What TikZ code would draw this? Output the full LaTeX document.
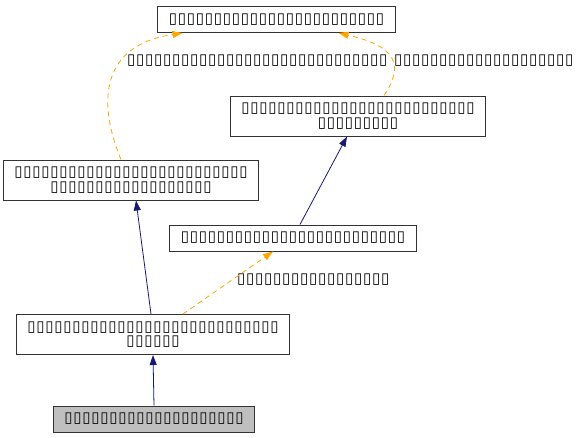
\documentclass[tikz,border=0pt]{standalone}
\usepackage{fontspec}
\usepackage{tikz}
\usetikzlibrary{arrows.meta}
\newfontfamily\tofufont[LetterSpace=5]{DejaVu Sans}
\definecolor{edgeblue}{rgb}{0.098,0.098,0.439}
\definecolor{edgeorange}{rgb}{1,0.647,0}
\definecolor{selfgrey}{rgb}{0.749,0.749,0.749}

\tikzset{
  cls/.style={draw=black!80, line width=1pt, fill=white, align=center,
    font=\tofufont\fontsize{15}{14.5}\selectfont, inner xsep=11pt, inner ysep=2pt,
    minimum height=26pt},
  twoline/.style={minimum height=40pt},
  self/.style={cls, fill=selfgrey},
  elabel/.style={font=\tofufont\fontsize{15}{14.5}\selectfont, anchor=west, inner sep=0pt},
  pub/.style={draw=edgeblue, line width=0.8pt, -{Triangle[length=10pt,width=7pt]}},
  tmpl/.style={draw=edgeorange, line width=0.8pt, dashed, dash pattern=on 5pt off 4pt,
    -{Triangle[length=10pt,width=7pt,fill=edgeorange]}},
}

\begin{document}
\begin{tikzpicture}[x=1pt, y=-1pt]
    \useasboundingbox (0,0) rectangle (577,437);
    % Define nodes
    \node[cls]		(base)		at (276.5,19.5)	{▯▯▯▯▯▯▯▯▯▯▯▯▯▯▯▯▯▯▯▯▯▯▯▯};
    \node[cls, twoline]	(ifaceB)	at (358,116)	{▯▯▯▯▯▯▯▯▯▯▯▯▯▯▯▯▯▯▯▯▯▯▯▯▯▯\\▯▯▯▯▯▯▯▯▯};
    \node[cls, twoline]	(ifaceA)	at (131,180)	{▯▯▯▯▯▯▯▯▯▯▯▯▯▯▯▯▯▯▯▯▯▯▯▯▯▯\\▯▯▯▯▯▯▯▯▯▯▯▯▯▯▯▯▯▯};
    \node[cls]		(impl)		at (293,238)	{▯▯▯▯▯▯▯▯▯▯▯▯▯▯▯▯▯▯▯▯▯▯▯▯▯};
    \node[cls, twoline]	(derived)	at (153,334.5)	{▯▯▯▯▯▯▯▯▯▯▯▯▯▯▯▯▯▯▯▯▯▯▯▯▯▯▯▯\\▯▯▯▯▯▯};
    \node[self]		(cls)		at (154,419)	{▯▯▯▯▯▯▯▯▯▯▯▯▯▯▯▯▯▯▯▯};

    % Edge labels
    \node[elabel]	(argA)	at (127,61)	{▯▯▯▯▯▯▯▯▯▯▯▯▯▯▯▯▯▯▯▯▯▯▯▯▯▯▯▯▯};
    \node[elabel]	(argB)	at (394,61)	{▯▯▯▯▯▯▯▯▯▯▯▯▯▯▯▯▯▯▯▯};
    \node[elabel]	(argC)	at (237,280)	{▯▯▯▯▯▯▯▯▯▯▯▯▯▯▯▯▯};

    % Connect nodes
    \draw[tmpl] ([xshift=-10pt]ifaceA.north) .. controls +(-21,-50) and +(-87,13) .. ([xshift=-94pt]base.south);
    \draw[tmpl] ([xshift=26pt]ifaceB.north) .. controls +(21,-31) and +(57,13) .. ([xshift=62pt]base.south);
    \draw[pub] ([xshift=7pt]impl.north) -- ([xshift=-11pt]ifaceB.south);
    \draw[pub] ([xshift=-2pt]derived.north) -- ([xshift=5pt]ifaceA.south);
    \draw[tmpl] ([xshift=30pt]derived.north) -- ([xshift=-20pt]impl.south);
    \draw[pub] (cls.north) -- (derived.south);
\end{tikzpicture}
\end{document}
